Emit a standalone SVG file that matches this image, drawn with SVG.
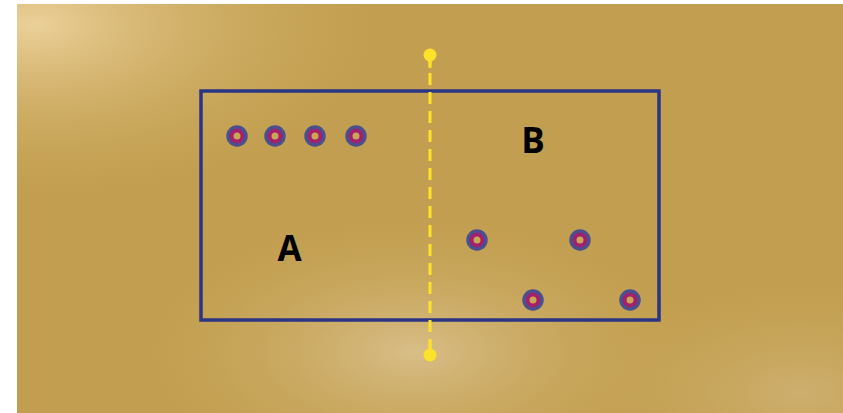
<svg xmlns="http://www.w3.org/2000/svg" width="843" height="413" viewBox="0 0 843 413">
<defs>
<radialGradient id="g1" cx="0.02" cy="0.05" r="0.45">
<stop offset="0" stop-color="#ebd099"/>
<stop offset="1" stop-color="#c6a252" stop-opacity="0"/>
</radialGradient>
<radialGradient id="g2" cx="0.48" cy="0.85" r="0.35">
<stop offset="0" stop-color="#d8be88"/>
<stop offset="1" stop-color="#c6a252" stop-opacity="0"/>
</radialGradient>
<radialGradient id="g3" cx="0.95" cy="0.95" r="0.3">
<stop offset="0" stop-color="#d2b67c" stop-opacity="0.7"/>
<stop offset="1" stop-color="#c6a252" stop-opacity="0"/>
</radialGradient>
<g id="hole">
<circle r="9" fill="#a51f6b" stroke="#4a4f8e" stroke-width="3.5"/>
<circle r="3.5" fill="#c8a656"/>
</g>
</defs>
<style>
.lbl{font-family:"Open Sans","DejaVu Sans",sans-serif;font-weight:bold;font-size:35px;fill:#000;text-anchor:middle}
</style>
<rect x="0" y="0" width="843" height="413" fill="#fff"/>
<rect x="17" y="4" width="826" height="409" fill="#c29f50"/>
<rect x="17" y="4" width="826" height="409" fill="url(#g1)"/>
<rect x="17" y="4" width="826" height="409" fill="url(#g2)"/>
<rect x="17" y="4" width="826" height="409" fill="url(#g3)"/>
<g id="board">
<rect x="201" y="91" width="458" height="229" fill="none" stroke="#2b3585" stroke-width="3.5"/>
</g>
<g id="connectors">
<line x1="430" y1="55" x2="430" y2="355" stroke="#fde22a" stroke-width="3" stroke-dasharray="12 7" stroke-dashoffset="-18"/>
<line x1="430" y1="55" x2="430" y2="68" stroke="#fde22a" stroke-width="3"/>
<line x1="430" y1="342" x2="430" y2="355" stroke="#fde22a" stroke-width="3"/>
<circle cx="430" cy="55" r="6.5" fill="#fde22a"/>
<circle cx="430" cy="355" r="6.5" fill="#fde22a"/>
</g>
<g id="holes">
<use href="#hole" x="237" y="136"/>
<use href="#hole" x="275" y="136"/>
<use href="#hole" x="315" y="136"/>
<use href="#hole" x="356" y="136"/>
<use href="#hole" x="477" y="240"/>
<use href="#hole" x="580" y="240"/>
<use href="#hole" x="533" y="300"/>
<use href="#hole" x="630" y="300"/>
</g>
<g id="label-A"><text class="lbl" x="289.5" y="261">A</text></g>
<g id="label-B"><text class="lbl" x="533" y="153">B</text></g>
</svg>
